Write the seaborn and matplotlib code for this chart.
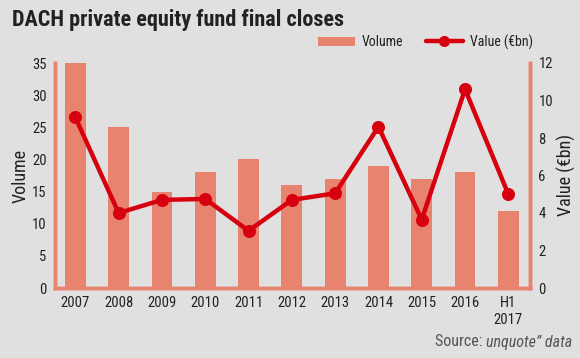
import matplotlib
matplotlib.use("Agg")
import matplotlib.pyplot as plt
from matplotlib.patches import Patch
from matplotlib.lines import Line2D
import seaborn as sns
import pandas as pd

# data
years = ["2007", "2008", "2009", "2010", "2011", "2012", "2013", "2014", "2015", "2016", "H1\n2017"]
volume = [35, 25, 15, 18, 20, 16, 17, 19, 17, 18, 12]
value_bn = [9.1, 4.0, 4.7, 4.75, 3.05, 4.7, 5.05, 8.6, 3.65, 10.6, 5.0]

bar_col = "#e8836f"
line_col = "#d7000f"
bg = "#e0e0e0"
txt = "#222222"

sns.set_style("white")
plt.rcParams["font.family"] = ["Roboto Condensed", "DejaVu Sans"]

df = pd.DataFrame({"year": years, "volume": volume, "value": value_bn})

fig = plt.figure(figsize=(5.8, 3.58), dpi=100, facecolor=bg)
ax = fig.add_axes([55 / 580, 1 - 288 / 358, 475 / 580, 225 / 358])
ax.set_facecolor(bg)

sns.barplot(data=df, x="year", y="volume", color=bar_col, width=0.48,
            linewidth=0, saturation=1, ax=ax)
ax.set_ylim(0, 35)
ax.set_yticks(range(0, 36, 5))
ax.set_xlim(-0.47, 10.5)

ax2 = ax.twinx()
sns.pointplot(data=df, x="year", y="value", color=line_col, ax=ax2,
              markersize=7, linewidth=3.2)
ax2.set_ylim(0, 12)
ax2.set_yticks(range(0, 13, 2))
ax2.set_xlim(-0.47, 10.5)

for a in (ax, ax2):
    a.spines["top"].set_visible(False)
    for s in ("left", "right", "bottom"):
        a.spines[s].set_color(bar_col)
        a.spines[s].set_linewidth(2.5)
    a.tick_params(length=0, labelsize=10.5, colors=txt, pad=6)
    a.set_xlabel("")

ax.set_ylabel("Volume", fontsize=13, color=txt, labelpad=2)
ax2.set_ylabel("Value (€bn)", fontsize=13, color=txt, labelpad=3)

fig.text(12 / 580, 1 - 20 / 358, "DACH private equity fund final closes",
         fontsize=16, fontweight="bold", color=txt, va="center", ha="left")

# legend
handles = [Patch(facecolor=bar_col, edgecolor="none"),
           Line2D([0], [0], color=line_col, lw=3.2, marker="o", markersize=7)]
fig.legend(handles, ["Volume", "Value (€bn)"], loc="center left",
           bbox_to_anchor=(305 / 580, 1 - 42 / 358), ncol=2, frameon=False,
           fontsize=10, handlelength=2.7, handletextpad=0.5, columnspacing=1.6,
           labelcolor=txt)

# source line, italic part right aligned
fig.canvas.draw()
t2 = fig.text(572 / 580, 1 - 342 / 358, "unquote\u201d data", fontsize=11.5,
              style="italic", color="#555555", ha="right", va="center")
bb = t2.get_window_extent(fig.canvas.get_renderer())
fig.text(bb.x0 / fig.bbox.width, 1 - 342 / 358, "Source: ", fontsize=11.5,
         color="#555555", ha="right", va="center")

fig.savefig("out.png", dpi=100, facecolor=bg)
